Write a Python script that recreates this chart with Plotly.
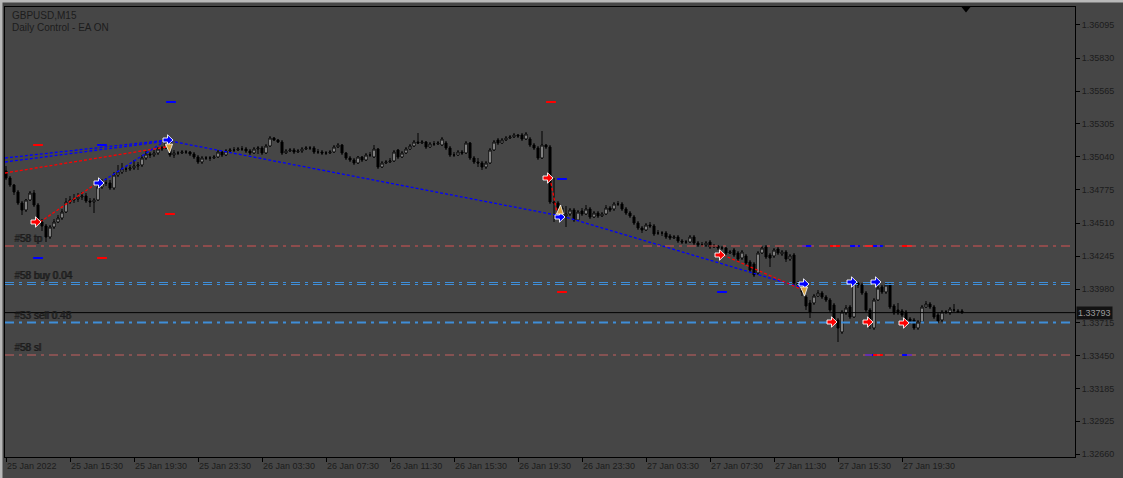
import plotly.graph_objects as go
import pandas as pd

# ---------------- data ----------------
open_ = [
 1.34926, 1.34870, 1.34814, 1.34758, 1.34670, 1.34614, 1.34694, 1.34750, 1.34654, 1.34518,
 1.34486, 1.34398, 1.34478, 1.34518, 1.34550, 1.34598, 1.34678, 1.34694, 1.34702, 1.34718,
 1.34726, 1.34686, 1.34678, 1.34694, 1.34798, 1.34830, 1.34830, 1.34790, 1.34894, 1.34918,
 1.34942, 1.34942, 1.34950, 1.34966, 1.34974, 1.35030, 1.35062, 1.35054, 1.35070, 1.35102,
 1.35110, 1.35166, 1.35054, 1.35070, 1.35070, 1.35078, 1.35078, 1.35062, 1.35038, 1.34998,
 1.35030, 1.35030, 1.35030, 1.35038, 1.35078, 1.35054, 1.35086, 1.35094, 1.35094, 1.35102,
 1.35102, 1.35086, 1.35070, 1.35102, 1.35110, 1.35070, 1.35126, 1.35190, 1.35174, 1.35158,
 1.35070, 1.35086, 1.35094, 1.35078, 1.35086, 1.35102, 1.35110, 1.35110, 1.35078, 1.35078,
 1.35070, 1.35070, 1.35078, 1.35118, 1.35134, 1.35070, 1.35030, 1.35014, 1.34990, 1.35038,
 1.35014, 1.35054, 1.35038, 1.35102, 1.34958, 1.34990, 1.34998, 1.35006, 1.35094, 1.35038,
 1.35070, 1.35102, 1.35126, 1.35158, 1.35150, 1.35158, 1.35118, 1.35142, 1.35142, 1.35134,
 1.35150, 1.35110, 1.35054, 1.35054, 1.35078, 1.35070, 1.35150, 1.35030, 1.34998, 1.34990,
 1.34958, 1.34990, 1.35094, 1.35174, 1.35150, 1.35174, 1.35190, 1.35198, 1.35214, 1.35214,
 1.35182, 1.35182, 1.35134, 1.35110, 1.35030, 1.35134, 1.35118, 1.34678, 1.34670, 1.34630,
 1.34566, 1.34582, 1.34614, 1.34534, 1.34606, 1.34582, 1.34622, 1.34558, 1.34590, 1.34566,
 1.34582, 1.34630, 1.34622, 1.34662, 1.34662, 1.34622, 1.34590, 1.34558, 1.34510, 1.34470,
 1.34454, 1.34494, 1.34486, 1.34430, 1.34430, 1.34430, 1.34406, 1.34390, 1.34398, 1.34366,
 1.34358, 1.34358, 1.34398, 1.34350, 1.34334, 1.34334, 1.34358, 1.34318, 1.34326, 1.34310,
 1.34310, 1.34270, 1.34294, 1.34270, 1.34230, 1.34246, 1.34198, 1.34182, 1.34110, 1.34270,
 1.34318, 1.34254, 1.34246, 1.34302, 1.34262, 1.34278, 1.34222, 1.34254, 1.34030, 1.34014,
 1.33918, 1.33870, 1.33870, 1.33926, 1.33950, 1.33918, 1.33894, 1.33854, 1.33734, 1.33638,
 1.33790, 1.33838, 1.33758, 1.34030, 1.34014, 1.33950, 1.33814, 1.33670, 1.33894, 1.33998,
 1.33958, 1.34014, 1.33846, 1.33814, 1.33806, 1.33798, 1.33742, 1.33734, 1.33670, 1.33718,
 1.33838, 1.33862, 1.33838, 1.33774, 1.33734, 1.33798, 1.33790, 1.33814, 1.33806, 1.33806,
]
close = [
 1.34870, 1.34814, 1.34758, 1.34670, 1.34614, 1.34694, 1.34750, 1.34654, 1.34518, 1.34486,
 1.34398, 1.34478, 1.34518, 1.34550, 1.34598, 1.34678, 1.34694, 1.34702, 1.34718, 1.34726,
 1.34686, 1.34678, 1.34694, 1.34798, 1.34830, 1.34830, 1.34790, 1.34894, 1.34918, 1.34942,
 1.34942, 1.34950, 1.34966, 1.34974, 1.35030, 1.35062, 1.35054, 1.35070, 1.35102, 1.35110,
 1.35150, 1.35054, 1.35070, 1.35070, 1.35078, 1.35078, 1.35062, 1.35038, 1.34998, 1.35030,
 1.35030, 1.35030, 1.35038, 1.35078, 1.35054, 1.35086, 1.35094, 1.35094, 1.35102, 1.35102,
 1.35086, 1.35070, 1.35102, 1.35110, 1.35070, 1.35126, 1.35190, 1.35174, 1.35158, 1.35070,
 1.35086, 1.35094, 1.35078, 1.35086, 1.35102, 1.35110, 1.35110, 1.35078, 1.35078, 1.35070,
 1.35070, 1.35078, 1.35118, 1.35134, 1.35070, 1.35030, 1.35014, 1.34990, 1.35038, 1.35014,
 1.35054, 1.35054, 1.35102, 1.34958, 1.34990, 1.34998, 1.35006, 1.35078, 1.35038, 1.35070,
 1.35102, 1.35126, 1.35158, 1.35150, 1.35158, 1.35118, 1.35142, 1.35142, 1.35150, 1.35182,
 1.35110, 1.35054, 1.35054, 1.35078, 1.35070, 1.35150, 1.35030, 1.34998, 1.34990, 1.34958,
 1.34990, 1.35094, 1.35158, 1.35150, 1.35174, 1.35190, 1.35198, 1.35214, 1.35206, 1.35182,
 1.35222, 1.35134, 1.35110, 1.35030, 1.35134, 1.35118, 1.34678, 1.34670, 1.34630, 1.34566,
 1.34582, 1.34614, 1.34534, 1.34598, 1.34582, 1.34622, 1.34558, 1.34590, 1.34566, 1.34582,
 1.34630, 1.34614, 1.34662, 1.34662, 1.34622, 1.34590, 1.34566, 1.34510, 1.34470, 1.34454,
 1.34494, 1.34486, 1.34422, 1.34430, 1.34430, 1.34398, 1.34390, 1.34398, 1.34366, 1.34358,
 1.34358, 1.34398, 1.34350, 1.34334, 1.34334, 1.34350, 1.34318, 1.34326, 1.34310, 1.34310,
 1.34270, 1.34278, 1.34254, 1.34222, 1.34278, 1.34190, 1.34134, 1.34094, 1.34270, 1.34310,
 1.34238, 1.34230, 1.34294, 1.34270, 1.34278, 1.34222, 1.34246, 1.34030, 1.34014, 1.33958,
 1.33846, 1.33798, 1.33926, 1.33950, 1.33918, 1.33894, 1.33814, 1.33734, 1.33670, 1.33798,
 1.33830, 1.33758, 1.34030, 1.34014, 1.33950, 1.33814, 1.33734, 1.33894, 1.33990, 1.33958,
 1.34014, 1.33838, 1.33790, 1.33790, 1.33774, 1.33734, 1.33718, 1.33670, 1.33718, 1.33838,
 1.33862, 1.33838, 1.33758, 1.33726, 1.33798, 1.33798, 1.33822, 1.33814, 1.33798, 1.33793,
]
high = [
 1.34966, 1.34886, 1.34822, 1.34774, 1.34686, 1.34702, 1.34766, 1.34774, 1.34670, 1.34542,
 1.34502, 1.34494, 1.34542, 1.34574, 1.34622, 1.34710, 1.34726, 1.34742, 1.34750, 1.34758,
 1.34750, 1.34710, 1.34710, 1.34830, 1.34862, 1.34870, 1.34854, 1.34918, 1.34974, 1.34990,
 1.34966, 1.34974, 1.35014, 1.34998, 1.35054, 1.35086, 1.35078, 1.35094, 1.35118, 1.35126,
 1.35174, 1.35182, 1.35094, 1.35086, 1.35094, 1.35094, 1.35086, 1.35078, 1.35054, 1.35046,
 1.35046, 1.35046, 1.35054, 1.35094, 1.35086, 1.35102, 1.35110, 1.35118, 1.35118, 1.35126,
 1.35118, 1.35102, 1.35118, 1.35126, 1.35126, 1.35142, 1.35206, 1.35198, 1.35182, 1.35174,
 1.35102, 1.35110, 1.35110, 1.35102, 1.35118, 1.35126, 1.35126, 1.35126, 1.35102, 1.35094,
 1.35086, 1.35094, 1.35134, 1.35150, 1.35142, 1.35078, 1.35046, 1.35030, 1.35046, 1.35046,
 1.35070, 1.35078, 1.35134, 1.35110, 1.35006, 1.35014, 1.35030, 1.35094, 1.35102, 1.35086,
 1.35118, 1.35142, 1.35174, 1.35230, 1.35174, 1.35166, 1.35158, 1.35166, 1.35166, 1.35198,
 1.35166, 1.35126, 1.35078, 1.35094, 1.35094, 1.35166, 1.35158, 1.35046, 1.35030, 1.35006,
 1.35006, 1.35110, 1.35174, 1.35190, 1.35190, 1.35206, 1.35214, 1.35230, 1.35222, 1.35230,
 1.35238, 1.35198, 1.35150, 1.35126, 1.35246, 1.35142, 1.35134, 1.34870, 1.34686, 1.34646,
 1.34646, 1.34630, 1.34630, 1.34614, 1.34630, 1.34654, 1.34638, 1.34606, 1.34606, 1.34598,
 1.34654, 1.34646, 1.34678, 1.34686, 1.34678, 1.34638, 1.34606, 1.34574, 1.34526, 1.34486,
 1.34510, 1.34518, 1.34502, 1.34454, 1.34446, 1.34446, 1.34422, 1.34414, 1.34414, 1.34382,
 1.34374, 1.34414, 1.34414, 1.34366, 1.34358, 1.34366, 1.34374, 1.34342, 1.34334, 1.34326,
 1.34318, 1.34294, 1.34310, 1.34286, 1.34294, 1.34262, 1.34214, 1.34198, 1.34286, 1.34326,
 1.34334, 1.34270, 1.34310, 1.34318, 1.34294, 1.34294, 1.34262, 1.34270, 1.34046, 1.34030,
 1.33934, 1.33894, 1.33942, 1.33974, 1.33966, 1.33934, 1.33910, 1.33870, 1.33750, 1.33814,
 1.33854, 1.33854, 1.34054, 1.34038, 1.34030, 1.33966, 1.33830, 1.33910, 1.34006, 1.34014,
 1.34030, 1.34030, 1.33862, 1.33870, 1.33822, 1.33814, 1.33758, 1.33750, 1.33734, 1.33854,
 1.33886, 1.33878, 1.33854, 1.33790, 1.33814, 1.33814, 1.33838, 1.33862, 1.33822, 1.33822,
]
low = [
 1.34854, 1.34798, 1.34734, 1.34654, 1.34574, 1.34598, 1.34686, 1.34638, 1.34502, 1.34446,
 1.34358, 1.34382, 1.34462, 1.34510, 1.34534, 1.34590, 1.34662, 1.34670, 1.34678, 1.34694,
 1.34670, 1.34638, 1.34590, 1.34686, 1.34782, 1.34806, 1.34774, 1.34774, 1.34878, 1.34902,
 1.34918, 1.34926, 1.34934, 1.34934, 1.34958, 1.35014, 1.35030, 1.35038, 1.35054, 1.35086,
 1.35102, 1.35038, 1.35030, 1.35054, 1.35062, 1.35062, 1.35046, 1.35022, 1.34982, 1.34982,
 1.35014, 1.35006, 1.35022, 1.35030, 1.35038, 1.35046, 1.35078, 1.35078, 1.35086, 1.35086,
 1.35070, 1.35054, 1.35062, 1.35062, 1.35054, 1.35062, 1.35118, 1.35166, 1.35150, 1.35054,
 1.35062, 1.35078, 1.35062, 1.35070, 1.35070, 1.35094, 1.35094, 1.35062, 1.35062, 1.35054,
 1.35054, 1.35062, 1.35070, 1.35110, 1.35054, 1.35014, 1.34998, 1.34974, 1.34982, 1.34998,
 1.35006, 1.35038, 1.35030, 1.34942, 1.34950, 1.34982, 1.34990, 1.34998, 1.35022, 1.35030,
 1.35062, 1.35094, 1.35118, 1.35142, 1.35142, 1.35102, 1.35110, 1.35126, 1.35134, 1.35126,
 1.35094, 1.35038, 1.35038, 1.35046, 1.35054, 1.35062, 1.35014, 1.34982, 1.34958, 1.34934,
 1.34942, 1.34982, 1.35086, 1.35134, 1.35142, 1.35166, 1.35182, 1.35190, 1.35190, 1.35166,
 1.35174, 1.35118, 1.35094, 1.35014, 1.35022, 1.35102, 1.34662, 1.34518, 1.34598, 1.34542,
 1.34478, 1.34566, 1.34518, 1.34526, 1.34566, 1.34574, 1.34542, 1.34550, 1.34550, 1.34558,
 1.34574, 1.34598, 1.34606, 1.34646, 1.34606, 1.34574, 1.34550, 1.34494, 1.34454, 1.34430,
 1.34446, 1.34470, 1.34406, 1.34414, 1.34406, 1.34382, 1.34374, 1.34382, 1.34350, 1.34342,
 1.34342, 1.34350, 1.34334, 1.34318, 1.34318, 1.34318, 1.34302, 1.34310, 1.34294, 1.34294,
 1.34254, 1.34262, 1.34238, 1.34206, 1.34214, 1.34174, 1.34118, 1.34078, 1.34094, 1.34262,
 1.34222, 1.34158, 1.34230, 1.34254, 1.34246, 1.34198, 1.34206, 1.34014, 1.33990, 1.33926,
 1.33814, 1.33750, 1.33854, 1.33918, 1.33902, 1.33878, 1.33798, 1.33718, 1.33558, 1.33622,
 1.33774, 1.33742, 1.33750, 1.33990, 1.33934, 1.33798, 1.33662, 1.33654, 1.33886, 1.33942,
 1.33942, 1.33822, 1.33774, 1.33774, 1.33758, 1.33718, 1.33702, 1.33654, 1.33654, 1.33710,
 1.33830, 1.33822, 1.33742, 1.33710, 1.33718, 1.33782, 1.33774, 1.33798, 1.33790, 1.33782,
]

first_bar = "2022-01-25 11:30"
x_tick_labels = ["25 Jan 2022", "25 Jan 15:30", "25 Jan 19:30", "25 Jan 23:30",
                 "26 Jan 03:30", "26 Jan 07:30", "26 Jan 11:30", "26 Jan 15:30",
                 "26 Jan 19:30", "26 Jan 23:30", "27 Jan 03:30", "27 Jan 07:30",
                 "27 Jan 11:30", "27 Jan 15:30", "27 Jan 19:30"]
y_tick_values = [1.36095, 1.35830, 1.35565, 1.35305, 1.35040, 1.34775, 1.34510,
                 1.34245, 1.33980, 1.33715, 1.33450, 1.33185, 1.32925, 1.32660]
bid_price = 1.33793

# order levels (horizontal lines) and their labels
level_prices = [1.34326, 1.34034, 1.34018, 1.33714, 1.33454]
level_colors = ["#d65252", "#3f8ed8", "#3f8ed8", "#3f8ed8", "#c45f5f"]
level_widths = [1, 1, 1, 2, 1]
label_texts = ["#58 tp", "#58 buy 0.04", "#53 sell 0.48", "#58 sl"]
label_prices = [1.34326, 1.34034, 1.33714, 1.33454]

# trade history lines (open -> close)
trade_t0 = ["2022-01-25 11:26:15", "2022-01-25 11:26:15", "2022-01-25 11:26:15",
            "2022-01-25 13:37:30", "2022-01-25 17:22:30", "2022-01-25 21:45:00",
            "2022-01-26 21:30:00", "2022-01-26 22:15:00", "2022-01-27 08:18:45"]
trade_p0 = [1.35030, 1.34998, 1.34910, 1.34518, 1.34830, 1.35166, 1.34870, 1.34566, 1.34254]
trade_t1 = ["2022-01-25 21:37:30", "2022-01-25 21:37:30", "2022-01-25 21:30:00",
            "2022-01-25 17:11:15", "2022-01-25 21:26:15", "2022-01-26 21:52:30",
            "2022-01-26 21:56:15", "2022-01-27 13:18:45", "2022-01-27 13:18:45"]
trade_p1 = [1.35174, 1.35166, 1.35118, 1.34830, 1.35166, 1.34574, 1.34590, 1.33990, 1.33974]
trade_col = ["blue", "blue", "red", "red", "blue", "blue", "red", "blue", "red"]

# order arrows
arrow_time = ["2022-01-25 13:22:30", "2022-01-25 17:18:45", "2022-01-25 21:37:30",
              "2022-01-26 21:22:30", "2022-01-26 22:07:30", "2022-01-27 08:07:30",
              "2022-01-27 13:22:30", "2022-01-27 15:07:30", "2022-01-27 16:22:30",
              "2022-01-27 17:22:30", "2022-01-27 17:52:30", "2022-01-27 19:37:30"]
arrow_price = [1.34518, 1.34830, 1.35174, 1.34870, 1.34558, 1.34254,
               1.34022, 1.33718, 1.34038, 1.33718, 1.34038, 1.33710]
arrow_col = ["#ff0000", "#0000ff", "#0000ff", "#ff0000", "#0000ff", "#ff0000",
             "#0000ff", "#ff0000", "#0000ff", "#ff0000", "#0000ff", "#ff0000"]

# close markers (gold wedges)
close_time = ["2022-01-25 21:41:15", "2022-01-26 22:07:30", "2022-01-27 13:22:30"]
close_price = [1.35110, 1.34614, 1.33966]
close_dir = ["down", "up", "down"]

# stop / target dashes
dash_time = ["2022-01-25 21:48:45", "2022-01-25 13:30", "2022-01-25 17:30", "2022-01-25 21:45",
             "2022-01-25 13:30", "2022-01-25 17:30", "2022-01-26 21:33:45", "2022-01-26 22:15",
             "2022-01-26 22:15", "2022-01-27 08:15",
             "2022-01-27 13:33:45", "2022-01-27 15:18:45", "2022-01-27 16:33:45",
             "2022-01-27 17:30", "2022-01-27 18:00", "2022-01-27 19:48:45",
             "2022-01-27 17:30", "2022-01-27 18:00", "2022-01-27 19:48:45"]
dash_price = [1.35478, 1.35134, 1.35134, 1.34582, 1.34230, 1.34230, 1.35478, 1.34862,
              1.33958, 1.33958,
              1.34326, 1.34326, 1.34326, 1.34326, 1.34326, 1.34326,
              1.33454, 1.33454, 1.33454]
dash_col = ["blue", "red", "blue", "red", "blue", "red", "red", "blue", "red", "blue",
            "blue", "red", "blue", "red", "blue", "red",
            "blue", "red", "blue"]

# ---------------- figure ----------------
BG = "#464646"
TXT = "#1c1c1c"
FONT = "Liberation Sans"

t0 = pd.Timestamp(first_bar)
step = pd.Timedelta(minutes=15)
bar_times = pd.date_range(t0, periods=len(close), freq="15min")
tick_times = pd.date_range(t0, periods=len(x_tick_labels), freq="4h")

fig = go.Figure()

fig.add_trace(go.Candlestick(
    x=bar_times, open=open_, high=high, low=low, close=close,
    increasing=dict(line=dict(color="black", width=1), fillcolor="white"),
    decreasing=dict(line=dict(color="black", width=1), fillcolor="black"),
    whiskerwidth=0, hoverinfo="skip", showlegend=False,
))

for a, pa, b, pb, c in zip(trade_t0, trade_p0, trade_t1, trade_p1, trade_col):
    fig.add_trace(go.Scatter(
        x=[a, b], y=[pa, pb], mode="lines",
        line=dict(color=c, width=1.3, dash="3px,2px"),
        hoverinfo="skip", showlegend=False))

fig.add_trace(go.Scatter(
    x=dash_time, y=dash_price, mode="markers",
    marker=dict(symbol="line-ew", size=7, line=dict(width=2, color=dash_col)),
    hoverinfo="skip", showlegend=False))

shapes = []
for p, c, w in zip(level_prices, level_colors, level_widths):
    shapes.append(dict(type="line", xref="paper", x0=0, x1=1, yref="y", y0=p, y1=p,
                       line=dict(color=c, width=w, dash="9px,5px,3px,5px"), layer="above"))
shapes.append(dict(type="line", xref="paper", x0=0, x1=1, yref="y", y0=bid_price, y1=bid_price,
                   line=dict(color="black", width=1), layer="above"))

arrow_path = "M-5,-2 L-0.5,-2 L-0.5,-5.2 L5,0 L-0.5,5.2 L-0.5,2 L-5,2 Z"
for t, p, c in zip(arrow_time, arrow_price, arrow_col):
    shapes.append(dict(type="path", xref="x", yref="y", xsizemode="pixel", ysizemode="pixel",
                       xanchor=t, yanchor=p, path=arrow_path, fillcolor=c,
                       line=dict(color="white", width=0.9), layer="above"))
for t, p, d in zip(close_time, close_price, close_dir):
    path = "M-3.5,4 L3.5,4 L0.5,-5 Z" if d == "down" else "M-3.5,-4 L3.5,-4 L0.5,5 Z"
    shapes.append(dict(type="path", xref="x", yref="y", xsizemode="pixel", ysizemode="pixel",
                       xanchor=t, yanchor=p, path=path, fillcolor="#d4a040",
                       line=dict(color="white", width=0.8), layer="above"))

# window border strips and chart-shift marker
shapes.append(dict(type="rect", xref="paper", yref="paper", x0=-5 / 1070, x1=-2.5 / 1070,
                   y0=-21 / 450, y1=457 / 450 + 0.01, fillcolor="#b8b8b8", line=dict(width=0)))
shapes.append(dict(type="rect", xref="paper", yref="paper", x0=-5 / 1070, x1=1 + 48 / 1070,
                   y0=1 + 4.5 / 450, y1=1 + 7 / 450, fillcolor="#b8b8b8", line=dict(width=0)))
shapes.append(dict(type="path", xref="paper", yref="paper", xsizemode="pixel", ysizemode="pixel",
                   xanchor=961 / 1070, yanchor=1, path="M-4.5,0 L4.5,0 L0,-5.5 Z",
                   fillcolor="black", line=dict(width=0)))

annotations = []
for txt, p in zip(label_texts, label_prices):
    for dx in (0, 1):
        annotations.append(dict(xref="paper", yref="y", x=7 / 1070, y=p, text=txt,
                                xanchor="left", yanchor="bottom", xshift=dx, yshift=0,
                                showarrow=False, font=dict(family=FONT, size=10, color=TXT)))
annotations.append(dict(xref="paper", yref="paper", x=5 / 1070, y=1 - 8 / 450,
                        text="GBPUSD,M15", xanchor="left", yanchor="middle", showarrow=False,
                        font=dict(family=FONT, size=10, color=TXT)))
annotations.append(dict(xref="paper", yref="paper", x=5 / 1070, y=1 - 21 / 450,
                        text="Daily Control - EA ON", xanchor="left", yanchor="middle",
                        showarrow=False, font=dict(family=FONT, size=10, color=TXT)))
annotations.append(dict(xref="paper", yref="y", x=1, y=bid_price, text="%.5f" % bid_price,
                        xanchor="left", yanchor="middle", xshift=1, showarrow=False,
                        bgcolor="#121212", borderpad=1,
                        font=dict(family=FONT, size=9, color="#9a9a9a")))

fig.update_layout(
    width=1123, height=478,
    margin=dict(l=5, r=48, t=7, b=21),
    paper_bgcolor=BG, plot_bgcolor=BG,
    boxgap=0.5, boxgroupgap=0,
    shapes=shapes, annotations=annotations,
    font=dict(family=FONT, size=9, color=TXT),
    showlegend=False,
    xaxis=dict(
        type="date",
        range=[t0 - 0.25 * step, t0 + 267.25 * step],
        tickvals=tick_times, ticktext=x_tick_labels,
        ticks="outside", ticklen=4, tickcolor="black", tickwidth=1,
        ticklabelposition="outside right",
        tickfont=dict(family=FONT, size=9, color=TXT),
        showgrid=False, zeroline=False,
        showline=True, linecolor="black", linewidth=1, mirror=True,
        rangeslider=dict(visible=False),
    ),
    yaxis=dict(
        side="right",
        range=[1.32638, 1.36238],
        tickvals=y_tick_values, ticktext=["%.5f" % v for v in y_tick_values],
        ticks="outside", ticklen=4, tickcolor="black", tickwidth=1,
        tickfont=dict(family=FONT, size=9, color=TXT),
        showgrid=False, zeroline=False,
        showline=True, linecolor="black", linewidth=1, mirror=True,
    ),
)

fig.write_html("out.html")
